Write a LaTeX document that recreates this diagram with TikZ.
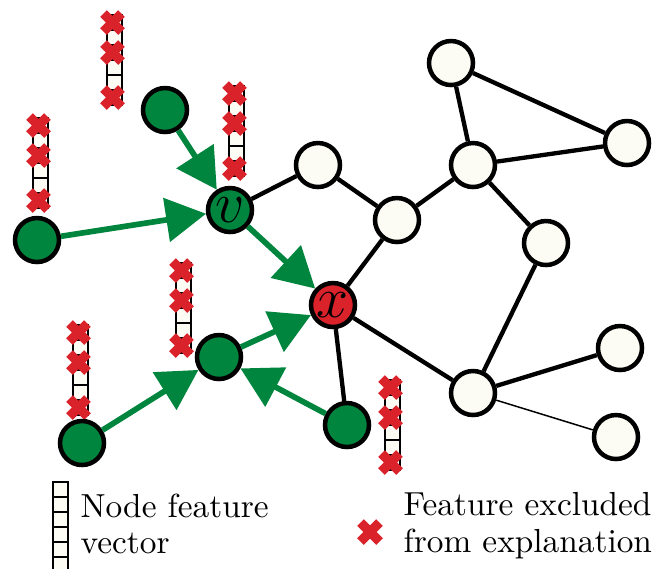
\documentclass[tikz,border=0pt]{standalone}
\usetikzlibrary{arrows.meta}
\definecolor{gGreen}{RGB}{0,133,62}
\definecolor{xRed}{RGB}{218,34,42}
\definecolor{nodeWhite}{RGB}{252,252,245}
\tikzset{
  gnode/.style={circle, draw=black, line width=1.35pt, fill=gGreen, minimum size=13.2pt, inner sep=0pt},
  wnode/.style={gnode, fill=nodeWhite},
  rnode/.style={gnode, fill=xRed},
  edge/.style={draw=black, line width=1.3pt},
  thinedge/.style={draw=black, line width=0.45pt},
  garrow/.style={draw=gGreen, line width=1.7pt, -{Triangle[length=12pt,width=13pt]}},
  cellbox/.style={draw=black, line width=0.6pt, fill=nodeWhite},
  xmark/.style={draw=xRed, line width=2.8pt},
  legendtext/.style={anchor=base west, inner sep=0pt, font=\fontsize{10}{12}\selectfont},
}
\newcommand{\xcross}[3]{% cx, cy, half size
  \draw[xmark] (#1-#3,#2-#3) -- (#1+#3,#2+#3) (#1-#3,#2+#3) -- (#1+#3,#2-#3);}
\newcommand{\featvec}[2]{% center x, top y
  \begin{scope}[shift={(#1,#2)}]
    \foreach \i in {0,...,5} \draw[cellbox] (-7.5,\i*15) rectangle (7.5,\i*15+15);
    \foreach \i in {0,2,5} \xcross{-1.5}{\i*15+7.5}{9};
  \end{scope}}
\begin{document}
\begin{tikzpicture}[x=0.3pt, y=-0.3pt]
\useasboundingbox (0,0) rectangle (661,568);
% feature vectors
\featvec{114}{15}
\featvec{236}{86}
\featvec{40}{118}
\featvec{183}{263}
\featvec{80}{325}
\featvec{392}{380}
% nodes
\node[gnode] (g1) at (165,110) {};
\node[gnode] (g2) at (37,240) {};
\node[gnode, font=\LARGE] (v) at (230,210) {$v$};
\node[rnode, font=\LARGE] (x) at (333,305) {$x$};
\node[gnode] (g3) at (219,357) {};
\node[gnode] (g4) at (347,425) {};
\node[gnode] (g5) at (82,443) {};
\node[wnode] (w1) at (318,165) {};
\node[wnode] (w2) at (397,220) {};
\node[wnode] (w3) at (473,165) {};
\node[wnode] (w4) at (451,63) {};
\node[wnode] (w5) at (627,143) {};
\node[wnode] (w6) at (546,243) {};
\node[wnode] (w7) at (473,393) {};
\node[wnode] (w8) at (620,348) {};
\node[wnode] (w9) at (616,437) {};
% black edges
\draw[edge] (v) -- (w1);
\draw[edge] (w1) -- (w2);
\draw[edge] (w2) -- (x);
\draw[edge] (w2) -- (w3);
\draw[edge] (w3) -- (w4);
\draw[edge] (w4) -- (w5);
\draw[edge] (w3) -- (w5);
\draw[edge] (w3) -- (w6);
\draw[edge] (w6) -- (w7);
\draw[edge] (x) -- (w7);
\draw[edge] (w7) -- (w8);
\draw[thinedge] (w7) -- (w9);
\draw[edge] (x) -- (g4);
% green arrows
\draw[garrow] (g1) -- (v);
\draw[garrow] (g2) -- (v);
\draw[garrow] (v) -- (x);
\draw[garrow] (g3) -- (x);
\draw[garrow] (g5) -- (g3);
\draw[garrow] (g4) -- (g3);
% legend
\begin{scope}[shift={(60,482)}]
  \foreach \i in {0,...,5} \draw[cellbox] (-7.5,\i*15) rectangle (7.5,\i*15+15);
\end{scope}
\node[legendtext] (lna) at (80,517) {Node feature};
\node[legendtext] (lnb) at (80,553) {vector};
\xcross{370}{532}{9.5}
\node[legendtext] (lxa) at (403,515) {Feature excluded};
\node[legendtext] (lxb) at (403,552) {from explanation};
\end{tikzpicture}
\end{document}
